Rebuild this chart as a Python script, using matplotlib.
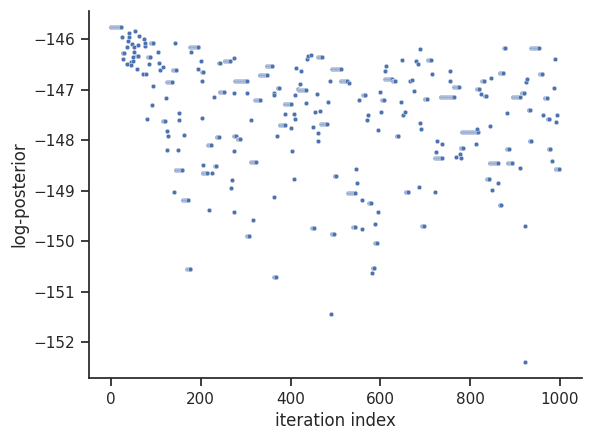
import numpy as np
import matplotlib
matplotlib.use("Agg")
import matplotlib.pyplot as plt
import seaborn as sns

# runs of the chain: first iteration, last iteration, log-posterior value
run_start = [0, 25, 26, 27, 35, 35, 38, 40, 40, 44, 45, 47, 49, 49, 52, 52, 54, 57, 60, 58,
             63, 71, 74, 75, 76, 79, 80, 85, 83, 91, 93, 89, 104, 106, 109, 116, 117, 122, 124, 125,
             128, 125, 140, 139, 142, 149, 151, 151, 144, 162, 160, 170, 177, 179, 195, 200, 202, 202, 203, 206,
             204, 226, 218, 217, 230, 232, 236, 241, 243, 253, 268, 270, 273, 273, 275, 275, 277, 275, 283, 304,
             304, 313, 317, 313, 321, 332, 347, 363, 363, 364, 364, 369, 372, 376, 388, 387, 402, 403, 407, 408,
             410, 410, 412, 417, 421, 423, 418, 434, 436, 438, 445, 448, 451, 454, 458, 460, 461, 465, 462, 468,
             483, 487, 490, 492, 493, 498, 512, 531, 529, 540, 546, 549, 552, 559, 560, 562, 571, 572, 575, 581,
             583, 587, 589, 594, 595, 600, 602, 604, 610, 613, 611, 628, 636, 645, 648, 651, 655, 657, 666, 670,
             674, 679, 684, 687, 688, 689, 691, 693, 699, 707, 715, 721, 724, 722, 726, 737, 735, 755, 756, 768,
             764, 777, 780, 779, 782, 813, 815, 816, 824, 827, 832, 838, 844, 846, 848, 844, 863, 866, 866, 876,
             882, 883, 884, 895, 912, 915, 921, 922, 925, 927, 930, 933, 936, 955, 962, 966, 973, 975, 983, 986,
             989, 990, 993, 990]
run_end = [23, 25, 26, 29, 35, 35, 38, 40, 40, 44, 45, 47, 49, 49, 52, 52, 54, 57, 60, 61,
           63, 71, 74, 75, 76, 79, 80, 85, 87, 91, 93, 94, 104, 106, 109, 116, 120, 122, 124, 125,
           128, 137, 140, 145, 142, 149, 151, 151, 159, 162, 172, 177, 195, 179, 195, 200, 202, 202, 205, 206,
           215, 226, 218, 223, 230, 235, 240, 242, 252, 266, 268, 270, 273, 273, 275, 275, 302, 278, 288, 304,
           308, 313, 317, 322, 332, 348, 359, 363, 363, 364, 367, 369, 375, 387, 388, 401, 402, 403, 407, 408,
           410, 410, 412, 417, 421, 423, 434, 434, 436, 438, 445, 452, 451, 454, 458, 460, 461, 465, 469, 481,
           483, 487, 490, 496, 512, 501, 526, 531, 544, 544, 546, 549, 552, 559, 560, 566, 571, 572, 579, 581,
           586, 587, 592, 594, 595, 600, 602, 607, 610, 613, 625, 633, 640, 645, 648, 651, 655, 662, 666, 670,
           674, 679, 684, 687, 688, 689, 691, 697, 704, 712, 715, 721, 724, 737, 726, 737, 763, 755, 756, 768,
           774, 777, 780, 783, 817, 813, 815, 820, 824, 831, 836, 842, 844, 846, 848, 861, 863, 873, 868, 878,
           882, 886, 894, 911, 912, 920, 921, 922, 925, 927, 933, 936, 953, 961, 962, 972, 976, 978, 983, 986,
           989, 990, 993, 998]
run_value = [-145.76, -145.96, -146.38, -146.27, -146.49, -146.16, -146.04, -145.88, -145.96, -146.45,
             -146.50, -146.10, -146.34, -146.42, -146.16, -146.24, -145.83, -146.58, -146.12, -146.32,
             -145.94, -146.68, -146.00, -146.14, -146.07, -146.68, -147.58, -146.48, -146.34, -147.31,
             -146.93, -146.08, -146.24, -146.46, -146.60, -146.54, -147.62, -147.17, -147.82, -148.20,
             -147.92, -146.85, -149.03, -146.60, -146.08, -148.20, -147.45, -147.60, -148.59, -147.90,
             -149.18, -150.56, -146.16, -146.24, -146.58, -146.42, -146.83, -147.55, -146.64, -148.49,
             -148.64, -148.65, -149.38, -148.10, -147.15, -148.51, -147.94, -146.46, -147.05, -146.42,
             -148.95, -148.79, -148.22, -149.42, -146.36, -147.07, -146.82, -147.92, -147.98, -147.07,
             -149.89, -147.60, -149.58, -148.43, -147.21, -146.70, -146.52, -147.07, -149.12, -147.11,
             -150.72, -147.92, -146.97, -147.70, -147.47, -147.29, -147.76, -148.22, -147.47, -148.77,
             -147.57, -147.11, -146.56, -146.99, -146.89, -146.62, -147.01, -147.27, -146.38, -146.32,
             -146.30, -149.74, -147.74, -147.43, -147.09, -148.02, -147.86, -147.41, -146.34, -147.68,
             -147.25, -146.83, -151.45, -149.85, -146.58, -148.71, -146.82, -146.87, -149.05, -149.72,
             -148.57, -148.85, -147.21, -149.18, -149.76, -147.11, -147.60, -147.50, -149.24, -150.64,
             -150.54, -149.66, -150.03, -149.42, -147.80, -147.05, -147.43, -147.21, -146.62, -146.53,
             -146.78, -146.83, -147.92, -147.25, -146.40, -147.49, -147.43, -149.03, -146.83, -146.80,
             -147.03, -146.42, -146.48, -148.92, -146.20, -147.66, -147.78, -149.70, -147.19, -146.40,
             -146.68, -149.03, -148.24, -148.36, -148.02, -148.08, -147.15, -146.83, -146.62, -148.33,
             -146.95, -148.28, -148.35, -148.16, -147.84, -148.08, -147.78, -146.99, -147.09, -146.83,
             -147.13, -148.77, -147.72, -146.76, -148.99, -148.45, -148.85, -146.66, -149.28, -146.18,
             -147.45, -148.18, -148.45, -147.15, -148.55, -147.07, -149.70, -152.39, -146.85, -146.78,
             -147.39, -148.02, -146.18, -146.68, -147.50, -147.17, -147.58, -148.18, -148.41, -146.97,
             -146.38, -147.64, -147.50, -148.57]

iters = []
logp = []
for a, b, v in zip(run_start, run_end, run_value):
    for i in range(a, b + 1):
        iters.append(i)
        logp.append(v)

sns.set_theme(style="ticks")

fig, ax = plt.subplots(figsize=(5.94, 4.41), dpi=100)
fig.subplots_adjust(left=0.149, right=0.979, bottom=0.142, top=0.976)
sns.scatterplot(x=iters, y=logp, s=11, ax=ax)
ax.set_xlabel("iteration index")
ax.set_ylabel("log-posterior")
sns.despine()

plt.savefig("out.png", dpi=100)
